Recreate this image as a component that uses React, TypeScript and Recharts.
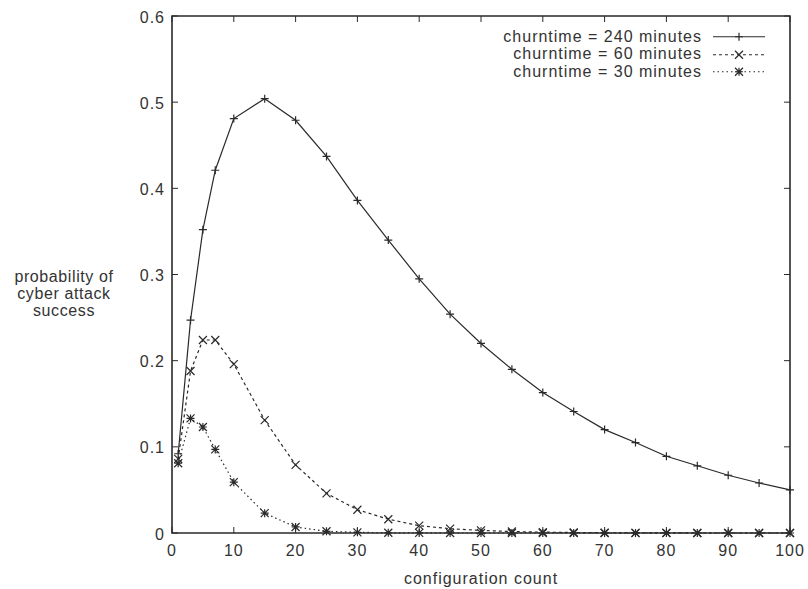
import React from 'react';
import { LineChart, Line, XAxis, YAxis, ReferenceArea } from 'recharts';

const configCounts = [1, 3, 5, 7, 10, 15, 20, 25, 30, 35, 40, 45, 50, 55, 60, 65, 70, 75, 80, 85, 90, 95, 100];
const churn240 = [0.092, 0.247, 0.352, 0.421, 0.481, 0.504, 0.479, 0.437, 0.386, 0.34, 0.295, 0.254, 0.22, 0.19, 0.163, 0.141, 0.12, 0.105, 0.089, 0.078, 0.067, 0.058, 0.05];
const churn60 = [0.086, 0.188, 0.224, 0.224, 0.196, 0.131, 0.079, 0.046, 0.027, 0.016, 0.0085, 0.005, 0.003, 0.0017, 0.001, 0.0006, 0.0003, 0.0002, 0.0001, 0, 0, 0, 0];
const churn30 = [0.081, 0.133, 0.123, 0.097, 0.059, 0.023, 0.007, 0.002, 0.0008, 0.0003, 0.0001, 0, 0, 0, 0, 0, 0, 0, 0, 0, 0, 0, 0];

const xTicks = [0, 10, 20, 30, 40, 50, 60, 70, 80, 90, 100];
const yTicks = [0, 0.1, 0.2, 0.3, 0.4, 0.5, 0.6];
const legendLabels = ['churntime = 240 minutes', 'churntime = 60 minutes', 'churntime = 30 minutes'];

const data = configCounts.map((c, i) => ({ count: c, c240: churn240[i], c60: churn60[i], c30: churn30[i] }));

const PLOT_LEFT = 172;
const PLOT_RIGHT = 790;
const PLOT_TOP = 16;
const PLOT_BOTTOM = 533;
const INK = '#2a2a2a';
const FONT = '"Liberation Sans", Arial, sans-serif';

function markPath(kind: string, cx: number, cy: number, r = 4) {
  const plus = `M${cx - r},${cy}H${cx + r}M${cx},${cy - r}V${cy + r}`;
  const cross = `M${cx - r},${cy - r}L${cx + r},${cy + r}M${cx - r},${cy + r}L${cx + r},${cy - r}`;
  if (kind === 'plus') return plus;
  if (kind === 'cross') return cross;
  return plus + cross;
}

const makeDot = (kind: string) => (props: any) => {
  const { cx, cy, key } = props;
  if (cx == null || cy == null) return <g key={key} />;
  return <path key={key} d={markPath(kind, cx, cy)} stroke={INK} strokeWidth={1.2} fill="none" />;
};

const XTick = (props: any) => {
  const { x, payload } = props;
  return (
    <g>
      <line x1={x} x2={x} y1={PLOT_BOTTOM} y2={PLOT_BOTTOM - 6} stroke={INK} />
      <line x1={x} x2={x} y1={PLOT_TOP} y2={PLOT_TOP + 6} stroke={INK} />
      <text x={x} y={550} textAnchor="middle" dominantBaseline="central" fill="#333" fontSize={16} letterSpacing={1}>
        {payload.value}
      </text>
    </g>
  );
};

const YTick = (props: any) => {
  const { y, payload } = props;
  return (
    <g>
      <line x1={PLOT_LEFT} x2={PLOT_LEFT + 6} y1={y} y2={y} stroke={INK} />
      <line x1={PLOT_RIGHT} x2={PLOT_RIGHT - 6} y1={y} y2={y} stroke={INK} />
      <text x={PLOT_LEFT - 7} y={y + 1} textAnchor="end" dominantBaseline="central" fill="#333" fontSize={16} letterSpacing={1}>
        {payload.value}
      </text>
    </g>
  );
};

const legendStyles = [
  { dash: undefined, kind: 'plus' },
  { dash: '3 3', kind: 'cross' },
  { dash: '1.5 3', kind: 'star' },
];

export default function App() {
  return (
    <div style={{ position: 'absolute', left: 0, top: 0, width: 808, height: 589, background: '#fff', fontFamily: FONT }}>
      <LineChart width={808} height={589} data={data} margin={{ top: PLOT_TOP, right: 808 - PLOT_RIGHT, bottom: 26, left: PLOT_LEFT - 60 }}>
        <XAxis
          dataKey="count"
          type="number"
          domain={[0, 100]}
          ticks={xTicks}
          height={30}
          axisLine={false}
          tickLine={false}
          tick={<XTick />}
          label={{
            content: () => (
              <text x={481} y={578} textAnchor="middle" dominantBaseline="central" fill="#333" fontSize={16} letterSpacing={1} fontFamily={FONT}>
                configuration count
              </text>
            ),
          }}
        />
        <YAxis
          type="number"
          domain={[0, 0.6]}
          ticks={yTicks}
          width={60}
          axisLine={false}
          tickLine={false}
          tick={<YTick />}
          label={{
            content: () => (
              <text textAnchor="middle" fill="#333" fontSize={16} letterSpacing={0.6} fontFamily={FONT}>
                <tspan x={64} y={282}>probability of</tspan>
                <tspan x={64} y={299}>cyber attack</tspan>
                <tspan x={64} y={316}>success</tspan>
              </text>
            ),
          }}
        />
        <ReferenceArea x1={0} x2={100} y1={0} y2={0.6} fill="none" stroke={INK} strokeWidth={1.6} ifOverflow="extendDomain" />
        <Line dataKey="c240" stroke={INK} strokeWidth={1.2} dot={makeDot('plus')} isAnimationActive={false} />
        <Line dataKey="c60" stroke={INK} strokeWidth={1.2} strokeDasharray="3 3" dot={makeDot('cross')} isAnimationActive={false} />
        <Line dataKey="c30" stroke={INK} strokeWidth={1.2} strokeDasharray="1.5 3" dot={makeDot('star')} isAnimationActive={false} />
      </LineChart>
      <div style={{ position: 'absolute', left: 400, top: 28, width: 380 }}>
        {legendLabels.map((label, i) => (
          <div key={label} style={{ display: 'flex', alignItems: 'center', height: 17.5 }}>
            <span style={{ width: 302, textAlign: 'right', fontSize: 16, letterSpacing: 1, color: '#333', whiteSpace: 'nowrap' }}>{label}</span>
            <svg width={70} height={17.5} style={{ display: 'block' }}>
              <line x1={11} x2={63} y1={8.75} y2={8.75} stroke={INK} strokeWidth={1.2} strokeDasharray={legendStyles[i].dash} />
              <path d={markPath(legendStyles[i].kind, 37, 8.75)} stroke={INK} strokeWidth={1.2} fill="none" />
            </svg>
          </div>
        ))}
      </div>
    </div>
  );
}
